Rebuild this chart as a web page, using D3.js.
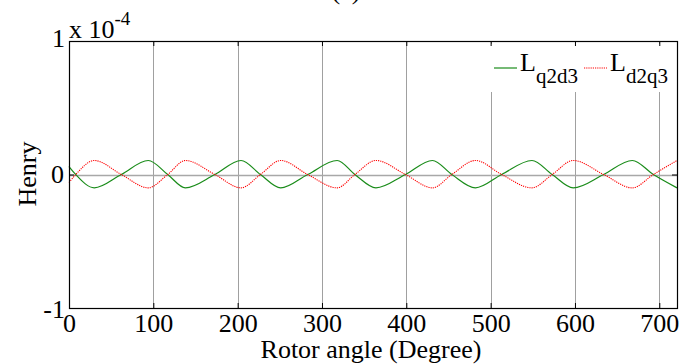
<!DOCTYPE html>
<html><head><meta charset="utf-8">
<script src="https://cdn.jsdelivr.net/npm/d3@7"></script>
<style>body{margin:0;background:#fff}svg{display:block}text{font-family:"Liberation Serif","Times New Roman",serif;fill:#000}</style>
</head><body><svg id="c" width="694" height="364"></svg>
<script>
// angle (degree) and inductance values (in units of 1e-4 H)
const angles  = [0, 8, 30, 62, 94, 117, 138, 173, 204, 227, 251, 283, 318, 339, 364, 399, 431, 454, 482, 513, 549, 573, 598, 634, 668, 693, 721];
const Lq2d3   = [0.06, 0, -0.1, 0, 0.105, 0, -0.1, 0, 0.105, 0, -0.1, 0, 0.105, 0, -0.1, 0, 0.105, 0, -0.1, 0, 0.105, 0, -0.1, 0, 0.105, 0, -0.1];
const Ld2q3   = [-0.06, 0, 0.105, 0, -0.1, 0, 0.105, 0, -0.1, 0, 0.105, 0, -0.1, 0, 0.105, 0, -0.1, 0, 0.105, 0, -0.1, 0, 0.105, 0, -0.1, 0, 0.105];
const xTicks  = [0, 100, 200, 300, 400, 500, 600, 700];
const yTicks  = [-1, 0, 1];

const svg = d3.select("#c");
const L = 69, R = 677, T = 41, B = 308;
const x = d3.scaleLinear().domain([0, 721]).range([L, R]);
const y = d3.scaleLinear().domain([-1, 1]).range([B, T]);
const fs = 26;

// grid
const g = svg.append("g");
g.selectAll("line.gx").data(xTicks).join("line")
  .attr("x1", d => Math.round(x(d)) + 0.5).attr("x2", d => Math.round(x(d)) + 0.5)
  .attr("y1", T).attr("y2", B).attr("stroke", "#a0a0a0").attr("stroke-width", 1);
g.append("line").attr("x1", L).attr("x2", R).attr("y1", Math.round(y(0)) + 0.5).attr("y2", Math.round(y(0)) + 0.5)
  .attr("stroke", "#a8a8a8").attr("stroke-width", 1.3);

// legend background (hides grid)
svg.append("rect").attr("x", 482).attr("y", 44).attr("width", 193).attr("height", 48).attr("fill", "#fff");

// lines
const line = (vals) => d3.line().x((d, i) => x(angles[i])).y(d => y(d)).curve(d3.curveMonotoneX)(vals);
svg.append("path").attr("d", line(Lq2d3)).attr("fill", "none").attr("stroke", "#1a8c1a").attr("stroke-width", 1.2);
svg.append("path").attr("d", line(Ld2q3)).attr("fill", "none").attr("stroke", "#ff0000").attr("stroke-width", 1.1).attr("stroke-dasharray", "1.2,1");

// box
svg.append("rect").attr("x", L + 0.5).attr("y", T + 0.5).attr("width", R - L).attr("height", B - T)
  .attr("fill", "none").attr("stroke", "#000").attr("stroke-width", 1.2);

// axes (ticks inward)
const xa = svg.append("g").attr("transform", `translate(0,${B})`)
  .call(d3.axisBottom(x).tickValues(xTicks).tickSize(-5).tickPadding(10));
const xt = svg.append("g").attr("transform", `translate(0,${T})`)
  .call(d3.axisTop(x).tickValues(xTicks).tickSize(-5).tickFormat(""));
const ya = svg.append("g").attr("transform", `translate(${L},0)`)
  .call(d3.axisLeft(y).tickValues(yTicks).tickSize(-5).tickPadding(5).tickFormat(d => String(d)));
const yr = svg.append("g").attr("transform", `translate(${R},0)`)
  .call(d3.axisRight(y).tickValues(yTicks).tickSize(-5).tickFormat(""));
[xa, xt, ya, yr].forEach(a => { a.select(".domain").remove(); a.selectAll(".tick line").attr("stroke", "#000"); a.attr("font-family", null); });
xa.selectAll("text").attr("font-size", fs).attr("dy", "0.55em");
ya.selectAll("text").attr("font-size", fs);
ya.selectAll(".tick").filter(d => d === 1).select("text").attr("dy", "0.2em").attr("x", -4);
ya.selectAll(".tick").filter(d => d === -1).select("text").attr("dy", "0.38em").attr("x", -4);

// exponent label
const ex = svg.append("text").attr("x", 69).attr("y", 38).attr("font-size", fs);
ex.append("tspan").text("x 10");
ex.append("tspan").attr("font-size", 19).attr("dy", -13).text("-4");

// title (cut off at top)
svg.append("text").attr("x", 346).attr("y", -1).attr("text-anchor", "middle").attr("font-size", fs).text("(a)");

// axis labels
svg.append("text").attr("x", 371).attr("y", 358).attr("text-anchor", "middle").attr("font-size", fs).text("Rotor angle (Degree)");
svg.append("text").attr("transform", "translate(36,174) rotate(-90)").attr("text-anchor", "middle").attr("font-size", fs).text("Henry");

// legend
const legend = [
  {name: "L", sub: "q2d3", color: "#1a8c1a", dash: null, x0: 494},
  {name: "L", sub: "d2q3", color: "#ff0000", dash: "1.2,1", x0: 584}
];
legend.forEach(e => {
  svg.append("line").attr("x1", e.x0).attr("x2", e.x0 + 23).attr("y1", 68).attr("y2", 68)
    .attr("stroke", e.color).attr("stroke-width", 1.2).attr("stroke-dasharray", e.dash);
  const t = svg.append("text").attr("x", e.x0 + 26).attr("y", 71).attr("font-size", fs);
  t.append("tspan").text(e.name);
  t.append("tspan").attr("font-size", 21).attr("dy", 12).text(e.sub);
});
</script></body></html>
